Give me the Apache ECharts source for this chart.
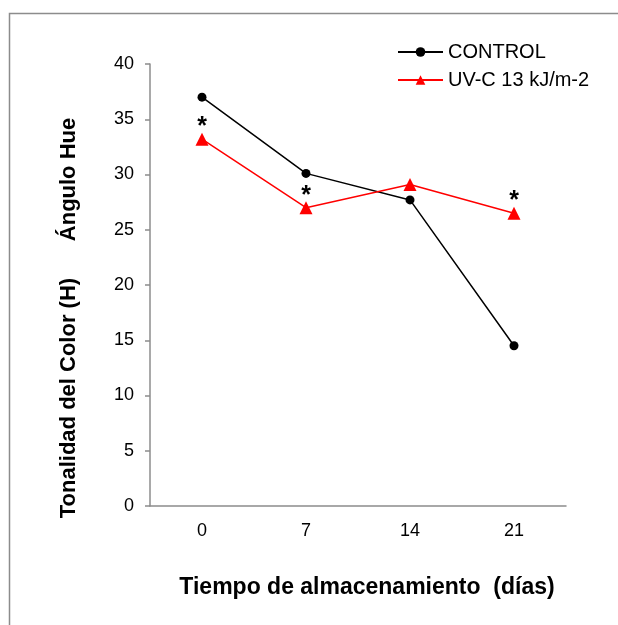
<!DOCTYPE html>
<html>
<head>
<meta charset="utf-8">
<script src="https://cdn.jsdelivr.net/npm/echarts@6/dist/echarts.min.js"></script>
<style>html,body{margin:0;padding:0;background:#fff}#c{width:618px;height:625px}</style>
</head>
<body>
<div id="c"></div>
<script>
const categories = ['0', '7', '14', '21'];
const controlValues = [37.0, 30.1, 27.7, 14.5];
const uvcValues = [33.2, 27.0, 29.1, 26.5];
const uvcSignificant = [true, true, false, true];
const yTicks = { min: 0, max: 40, interval: 5 };
const seriesNames = ['CONTROL', 'UV-C 13 kJ/m-2'];

const chart = echarts.init(document.getElementById('c'));
const font = 'Liberation Sans, Arial, sans-serif';
chart.setOption({
  animation: false,
  textStyle: { fontFamily: font },
  grid: { left: 150, right: 52, top: 64, bottom: 119 },
  legend: {
    orient: 'vertical', left: 392, top: 37, itemWidth: 45, itemHeight: 12, itemGap: 8,
    textStyle: { fontSize: 20, color: '#000', fontFamily: font },
    data: seriesNames
  },
  xAxis: {
    type: 'category', data: categories, boundaryGap: true,
    axisLine: { lineStyle: { color: '#8c8c8c', width: 1.5 } },
    axisTick: { show: false },
    axisLabel: { fontSize: 18, color: '#000', margin: 16, fontFamily: font }
  },
  yAxis: {
    type: 'value', min: yTicks.min, max: yTicks.max, interval: yTicks.interval,
    splitLine: { show: false },
    axisLine: { show: true, lineStyle: { color: '#8c8c8c', width: 1.5 } },
    axisTick: { show: true, length: 5, lineStyle: { color: '#8c8c8c', width: 1.5 } },
    axisLabel: { fontSize: 18, color: '#000', margin: 16, fontFamily: font }
  },
  series: [
    {
      name: seriesNames[0], type: 'line', data: controlValues,
      symbol: 'circle', symbolSize: 9,
      itemStyle: { color: '#000' }, lineStyle: { color: '#000', width: 1.5 }
    },
    {
      name: seriesNames[1], type: 'line', data: uvcValues,
      symbol: 'triangle', symbolSize: 13,
      itemStyle: { color: '#ff0000' }, lineStyle: { color: '#ff0000', width: 1.5 },
      label: {
        show: true, position: 'top', distance: -7, fontSize: 25, fontWeight: 'bold', color: '#000', fontFamily: font,
        formatter: p => uvcSignificant[p.dataIndex] ? '*' : ''
      }
    }
  ],
  graphic: [
    { type: 'rect', shape: { x: 9.5, y: 13.5, width: 700, height: 700 }, style: { fill: 'none', stroke: '#8c8c8c', lineWidth: 1.5 }, silent: true },
    { type: 'text', x: 69, y: 318, rotation: Math.PI / 2,
      style: { text: 'Tonalidad del Color (H)      Ángulo Hue', fontSize: 22, fontWeight: 'bold', fill: '#000', fontFamily: font, align: 'center', verticalAlign: 'middle' } },
    { type: 'text', x: 367, y: 588,
      style: { text: 'Tiempo de almacenamiento  (días)', fontSize: 23, fontWeight: 'bold', fill: '#000', fontFamily: font, align: 'center', verticalAlign: 'middle' } }
  ]
});
</script>
</body>
</html>
